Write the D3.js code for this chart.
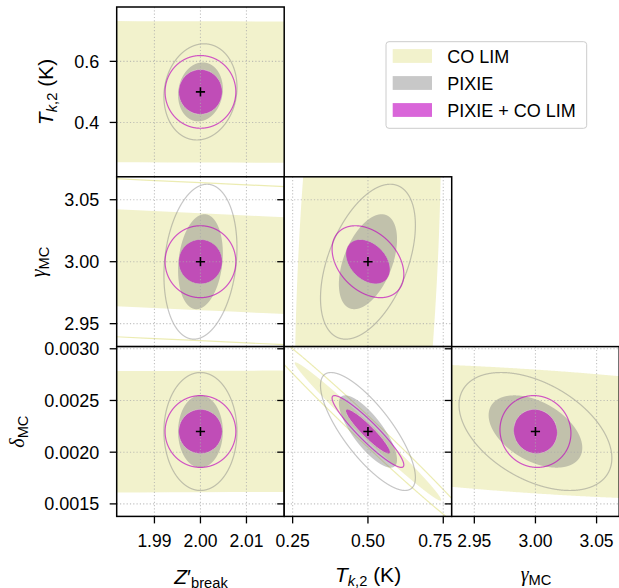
<!DOCTYPE html>
<html><head><meta charset="utf-8">
<script src="https://cdn.jsdelivr.net/npm/d3@7"></script>
<style>
body{margin:0;background:#fff}
svg{display:block}
text{font-family:"Liberation Sans",Arial,Helvetica,sans-serif;fill:#000}
</style>
</head><body><svg id="c" width="619" height="588"></svg>
<script>
// ---------------- data ----------------
const paramNames = ["Z'break", "Tk2", "gammaMC", "deltaMC"];
const fiducial   = [2.00, 0.50, 3.00, 0.0022];
const halfRange  = [0.0182, 0.278, 0.0685, 0.000821];

const xTicks      = [[1.99, 2.00, 2.01], [0.25, 0.50, 0.75], [2.95, 3.00, 3.05]];
const xTickLabels = [["1.99", "2.00", "2.01"], ["0.25", "0.50", "0.75"], ["2.95", "3.00", "3.05"]];
const yTicks      = [[0.4, 0.6], [2.95, 3.00, 3.05], [0.0015, 0.0020, 0.0025, 0.0030]];
const yTickLabels = [["0.4", "0.6"], ["2.95", "3.00", "3.05"], ["0.0015", "0.0020", "0.0025", "0.0030"]];

const datasets = ["CO LIM", "PIXIE", "PIXIE + CO LIM"];
// marginal 1-sigma errors, order: Z'break, Tk2, gammaMC, deltaMC
const sigmaCO    = [1.42, 0.16, 0.25, 0.00044];
const sigmaPIXIE = [0.0032, 0.0635, 0.0252, 0.00023];
const sigmaJoint = [0.0031, 0.048, 0.0117, 0.00014];
// correlations for panel pairs
const pairs      = [[0, 1], [0, 2], [0, 3], [1, 2], [1, 3], [2, 3]];
const rhoCO      = [-0.31, -0.9947, 0.48, 0.30, -0.99, -0.445];
const rhoPIXIE   = [0.10, 0.18, 0.0, 0.47, -0.78, -0.45];
const rhoJoint   = [0.0, 0.0, 0.0, -0.35, -0.93, -0.05];

const levels = [1.52, 2.48]; // 1-sigma and 2-sigma ellipse scalings

// ---------------- style ----------------
const styles = [
  {color: "rgb(191,191,0)", fillOp: 0.2, lineOp: 0.3, edge: "none"},
  {color: "rgb(128,128,128)", fillOp: 0.43, lineOp: 0.45, edge: "none"},
  {color: "rgb(191,0,191)", fillOp: 0.6, lineOp: 0.65, edge: "rgba(255,255,255,0.3)"}
];
const sigmas = [sigmaCO, sigmaPIXIE, sigmaJoint];
const rhos = [rhoCO, rhoPIXIE, rhoJoint];

const svg = d3.select("#c");
const X0 = 116.7, Y0 = 7, PW = 167.5, PH = 169.8;

function ellipsePath(sx, sy, rho, k, cx, cy, xs, ys) {
  const n = 2000, s = Math.sqrt(1 - rho * rho);
  const pts = d3.range(n).map(i => {
    const t = 2 * Math.PI * i / n;
    return [xs(cx + k * sx * Math.cos(t)), ys(cy + k * sy * (rho * Math.cos(t) + s * Math.sin(t)))];
  });
  return d3.line()(pts) + "Z";
}

pairs.forEach((pr, pi) => {
  const [i, j] = pr;
  const col = i, row = j - 1;
  const left = X0 + col * PW, top = Y0 + row * PH;
  const xs = d3.scaleLinear().domain([fiducial[i] - halfRange[i], fiducial[i] + halfRange[i]]).range([left, left + PW]);
  const ys = d3.scaleLinear().domain([fiducial[j] - halfRange[j], fiducial[j] + halfRange[j]]).range([top + PH, top]);
  const g = svg.append("g");
  g.append("rect").attr("x", left).attr("y", top).attr("width", PW).attr("height", PH).attr("fill", "#fff");
  const cid = "clip" + pi;
  g.append("clipPath").attr("id", cid).append("rect").attr("x", left).attr("y", top).attr("width", PW).attr("height", PH);
  const inner = g.append("g").attr("clip-path", `url(#${cid})`);

  datasets.forEach((d, di) => {
    const sx = sigmas[di][i], sy = sigmas[di][j], rho = rhos[di][pi];
    const st = styles[di];
    inner.append("path").attr("d", ellipsePath(sx, sy, rho, levels[0], fiducial[i], fiducial[j], xs, ys))
      .attr("fill", st.color).attr("fill-opacity", st.fillOp).attr("stroke", st.edge).attr("stroke-width", 1);
    inner.append("path").attr("d", ellipsePath(sx, sy, rho, levels[1], fiducial[i], fiducial[j], xs, ys))
      .attr("fill", "none").attr("stroke", st.color).attr("stroke-opacity", st.lineOp).attr("stroke-width", 1.2);
  });

  // grid
  const xt = xTicks[col], yt = yTicks[row];
  inner.selectAll(".gx").data(xt).enter().append("line")
    .attr("x1", d => xs(d)).attr("x2", d => xs(d)).attr("y1", top).attr("y2", top + PH)
    .attr("stroke", "#aaa").attr("stroke-opacity", 0.7).attr("stroke-width", 1.1).attr("stroke-dasharray", "1.2,2.1");
  inner.selectAll(".gy").data(yt).enter().append("line")
    .attr("y1", d => ys(d)).attr("y2", d => ys(d)).attr("x1", left).attr("x2", left + PW)
    .attr("stroke", "#aaa").attr("stroke-opacity", 0.7).attr("stroke-width", 1.1).attr("stroke-dasharray", "1.2,2.1");

  // fiducial marker
  inner.append("path").attr("transform", `translate(${xs(fiducial[i])},${ys(fiducial[j])})`)
    .attr("d", "M-4.6,0H4.6M0,-4.6V4.6").attr("stroke", "#000").attr("stroke-width", 1.6);

  // spines
  g.append("rect").attr("x", left).attr("y", top).attr("width", PW).attr("height", PH)
    .attr("fill", "none").attr("stroke", "#000").attr("stroke-width", 1.5);

  // ticks
  g.selectAll(".ty").data(yt).enter().append("line")
    .attr("x1", left - 7).attr("x2", left).attr("y1", d => ys(d)).attr("y2", d => ys(d))
    .attr("stroke", "#000").attr("stroke-width", 1.3);
  g.selectAll(".tx").data(xt).enter().append("line")
    .attr("y1", top + PH).attr("y2", top + PH + 7).attr("x1", d => xs(d)).attr("x2", d => xs(d))
    .attr("stroke", "#000").attr("stroke-width", 1.3);

  if (col === 0) {
    g.selectAll(".ly").data(yt).enter().append("text")
      .attr("x", left - 17.5).attr("y", d => ys(d) + 6.5).attr("text-anchor", "end")
      .attr("font-size", 18).text((d, k) => yTickLabels[row][k]);
  }
  if (row === 2) {
    const nx = xt.length;
    g.selectAll(".lx").data(xt).enter().append("text")
      .attr("x", d => xs(d)).attr("y", top + PH + 30.5).attr("text-anchor", "middle")
      .attr("dx", (d, k) => (col === 1 && k === nx - 1) ? -8 : 0)
      .attr("font-size", 17.5).text((d, k) => xTickLabels[col][k]);
  }
});

// ---------------- axis labels ----------------
function label(x, y, rot, parts) {
  const t = svg.append("text").attr("transform", `translate(${x},${y}) rotate(${rot})`)
    .attr("text-anchor", "middle").attr("font-size", 21);
  parts.forEach(p => {
    const s = t.append("tspan").text(p.t);
    if (p.it) s.attr("font-style", "italic");
    if (p.sz) s.attr("font-size", p.sz);
    if (p.dy) s.attr("dy", p.dy);
    if (p.ff) s.attr("font-family", p.ff);
  });
}
const greek = "'Liberation Serif','DejaVu Serif',serif";
label(52.5, 92, -90, [{t: "T", it: 1}, {t: "k", it: 1, sz: 14.7, dy: 4.5}, {t: ",2", sz: 14.7}, {t: " (K)", dy: -4.5}]);
label(45, 262, -90, [{t: "γ", it: 1, ff: greek, sz: 20}, {t: "MC", sz: 14.7, dy: 4}]);
label(23.5, 431.6, -90, [{t: "δ", it: 1, ff: greek, sz: 20}, {t: "MC", sz: 14.7, dy: 4}]);
label(201, 584, 0, [{t: "Z", it: 1}, {t: "′"}, {t: "break", sz: 14.7, dy: 3.5}]);
label(368, 581.5, 0, [{t: "T", it: 1}, {t: "k", it: 1, sz: 14.7, dy: 4.5}, {t: ",2", sz: 14.7}, {t: " (K)", dy: -4.5}]);
label(536, 581, 0, [{t: "γ", it: 1, ff: greek, sz: 20}, {t: "MC", sz: 14.7, dy: 4}]);

// ---------------- legend ----------------
const lg = svg.append("g");
lg.append("rect").attr("x", 386).attr("y", 41.7).attr("width", 200.7).attr("height", 86.6).attr("rx", 3)
  .attr("fill", "#fff").attr("fill-opacity", 0.8).attr("stroke", "#ccc").attr("stroke-width", 1);
datasets.forEach((d, di) => {
  const yc = 56 + di * 27;
  lg.append("rect").attr("x", 392.7).attr("y", yc - 6.9).attr("width", 39.3).attr("height", 13.8)
    .attr("fill", styles[di].color).attr("fill-opacity", styles[di].fillOp);
  lg.append("text").attr("x", 447.3).attr("y", yc + 6.5).attr("font-size", 18).text(d);
});
</script>
</body></html>
